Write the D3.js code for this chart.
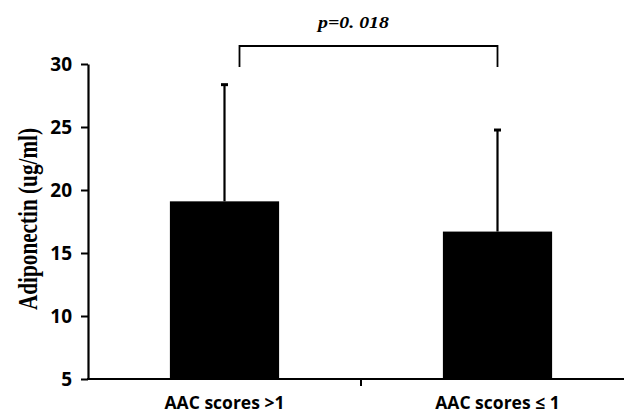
<!DOCTYPE html>
<meta charset="utf-8">
<head>
    <title>Adiponectin by AAC score</title>
    <style>
        body { margin: 0; background: #fff; }
        svg { display: block; }
    </style>
</head>
<body>
    <script src="https://cdn.jsdelivr.net/npm/d3@7"></script>
    <script>
        // data
        var categories = ["AAC scores >1", "AAC scores \u2264 1"];
        var means = [19.1, 16.7];
        var upperErr = [28.4, 24.8];
        var yTicks = [5, 10, 15, 20, 25, 30];
        var pLabel = "p=0. 018";

        var width = 624, height = 415;

        var svg = d3.select("body")
            .append("svg")
            .attr("width", width)
            .attr("height", height);

        // scales
        var x = d3.scaleBand().domain(categories).range([88, 634]).padding(0);
        var y = d3.scaleLinear().domain([5, 30]).range([379, 64]);

        var barW = x.bandwidth() * 0.4;
        var cx = function (c) { return x(c) + x.bandwidth() / 2; };

        // bars
        svg.append("g")
            .selectAll("rect")
            .data(categories)
            .enter()
            .append("rect")
            .attr("x", function (d) { return cx(d) - barW / 2; })
            .attr("y", function (d, i) { return y(means[i]); })
            .attr("width", barW)
            .attr("height", function (d, i) { return y(5) - y(means[i]); })
            .attr("fill", "#000");

        // error bars (upper only)
        var err = svg.append("g").attr("stroke", "#000").attr("stroke-width", 2.2);
        categories.forEach(function (c, i) {
            err.append("line")
                .attr("x1", cx(c)).attr("x2", cx(c))
                .attr("y1", y(means[i])).attr("y2", y(upperErr[i]));
            err.append("line")
                .attr("x1", cx(c) - 3.5).attr("x2", cx(c) + 3.5)
                .attr("y1", y(upperErr[i]) + 0.5).attr("y2", y(upperErr[i]) + 0.5)
                .attr("stroke-width", 3);
        });

        var sans = "'Open Sans', 'Noto Sans', sans-serif";
        var serif = "'Liberation Serif', 'Times New Roman', serif";

        // y axis
        var yAxis = svg.append("g")
            .attr("transform", "translate(88,0)")
            .call(d3.axisLeft(y).tickValues(yTicks).tickSize(7).tickSizeOuter(0));
        yAxis.select(".domain").attr("stroke-width", 2.2);
        yAxis.selectAll(".tick line").attr("stroke-width", 2);
        yAxis.selectAll(".tick text")
            .attr("x", -16)
            .attr("fill", "#000")
            .style("font-family", sans)
            .style("font-weight", "bold")
            .style("font-size", "19px");

        // x axis
        var xAxis = svg.append("g");
        xAxis.append("line")
            .attr("x1", 87).attr("x2", width)
            .attr("y1", y(5)).attr("y2", y(5))
            .attr("stroke", "#000").attr("stroke-width", 2.2);
        xAxis.append("line")
            .attr("x1", x(categories[1])).attr("x2", x(categories[1]))
            .attr("y1", y(5)).attr("y2", y(5) + 7)
            .attr("stroke", "#000").attr("stroke-width", 2);
        xAxis.selectAll("text")
            .data(categories)
            .enter()
            .append("text")
            .attr("x", function (d) { return cx(d); })
            .attr("y", 409)
            .attr("text-anchor", "middle")
            .style("font-family", sans)
            .style("font-weight", "bold")
            .style("font-size", "17.5px")
            .text(function (d) { return d; });

        // y axis title
        svg.append("text")
            .attr("transform", "translate(37,219) rotate(-90)")
            .attr("text-anchor", "middle")
            .attr("textLength", 182)
            .attr("lengthAdjust", "spacingAndGlyphs")
            .style("font-family", serif)
            .style("font-weight", "bold")
            .style("font-size", "27px")
            .text("Adiponectin (ug/ml)");

        // significance bracket
        var bTop = y(31.43), bEnd = y(29.76);
        var x1 = cx(categories[0]) + 15, x2 = cx(categories[1]);
        svg.append("path")
            .attr("d", "M" + x1 + "," + bEnd + "V" + bTop + "H" + x2 + "V" + bEnd)
            .attr("fill", "none")
            .attr("stroke", "#000")
            .attr("stroke-width", 1.8);

        svg.append("text")
            .attr("x", 318)
            .attr("y", 28)
            .attr("textLength", 71)
            .attr("lengthAdjust", "spacingAndGlyphs")
            .style("font-family", serif)
            .style("font-weight", "bold")
            .style("font-style", "italic")
            .style("font-size", "17px")
            .text(pLabel);
    </script>
</body>
</html>
